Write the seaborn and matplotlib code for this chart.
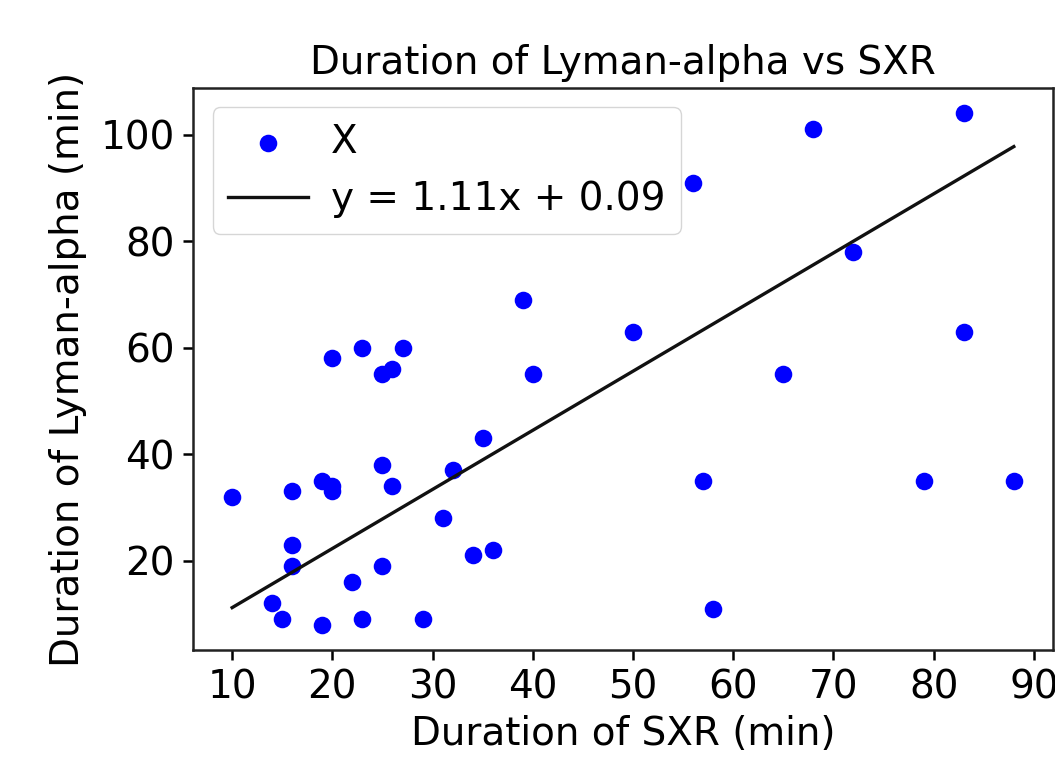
import numpy as np
import pandas as pd
import matplotlib
matplotlib.use("Agg")
import matplotlib.pyplot as plt
import seaborn as sns

# Data
sxr_duration = [10, 14, 15, 16, 16, 16, 19, 19, 20, 20, 20, 22, 23, 23, 25, 25, 25,
                26, 26, 27, 29, 31, 32, 34, 35, 36, 39, 40, 50, 56, 57, 58, 65, 68,
                72, 79, 83, 83, 88]
lya_duration = [32, 12, 9, 33, 23, 19, 35, 8, 58, 34, 33, 16, 60, 9, 55, 38, 19,
                56, 34, 60, 9, 28, 37, 21, 43, 22, 69, 55, 63, 91, 35, 11, 55, 101,
                78, 35, 104, 63, 35]
fit_slope = 1.11
fit_intercept = 0.09

title = "Duration of Lyman-alpha vs SXR"
xlabel = "Duration of SXR (min)"
ylabel = "Duration of Lyman-alpha (min)"
scatter_label = "X"
line_label = f"y = {fit_slope:.2f}x + {fit_intercept:.2f}"

FS = 28
plt.rcParams["font.family"] = ["DejaVu Sans"]
plt.rcParams["font.size"] = FS

df = pd.DataFrame({"sxr": sxr_duration, "lya": lya_duration})
x_fit = np.array([min(sxr_duration), max(sxr_duration)])
fit_df = pd.DataFrame({"x": x_fit, "y": fit_slope * x_fit + fit_intercept})

fig = plt.figure(figsize=(10.55, 7.64), dpi=100)
ax = fig.add_axes([0.183, 0.149, 0.815, 0.736])

sns.scatterplot(data=df, x="sxr", y="lya", ax=ax, color="blue", s=160,
                linewidth=0, label=scatter_label)
sns.lineplot(data=fit_df, x="x", y="y", ax=ax, color="#111111", linewidth=2.4,
             label=line_label)

ax.set_xticks([10, 20, 30, 40, 50, 60, 70, 80, 90])
ax.set_yticks([20, 40, 60, 80, 100])
ax.set_xlim(6.1, 91.9)
ax.set_ylim(3.2, 108.8)

ax.set_title(title, fontsize=FS, pad=10)
ax.set_xlabel(xlabel, fontsize=FS, labelpad=6)
ax.set_ylabel(ylabel, fontsize=FS, labelpad=10)
ax.tick_params(axis="both", labelsize=FS, length=7, width=1.8, pad=6, direction="out")
for sp in ax.spines.values():
    sp.set_linewidth(1.8)
    sp.set_color("#222222")

leg = ax.legend(loc="upper left", fontsize=FS, frameon=True, scatterpoints=1,
                handlelength=2.05, handletextpad=0.6, borderaxespad=0.5,
                borderpad=0.4)

fig.savefig("out.png", dpi=100)
